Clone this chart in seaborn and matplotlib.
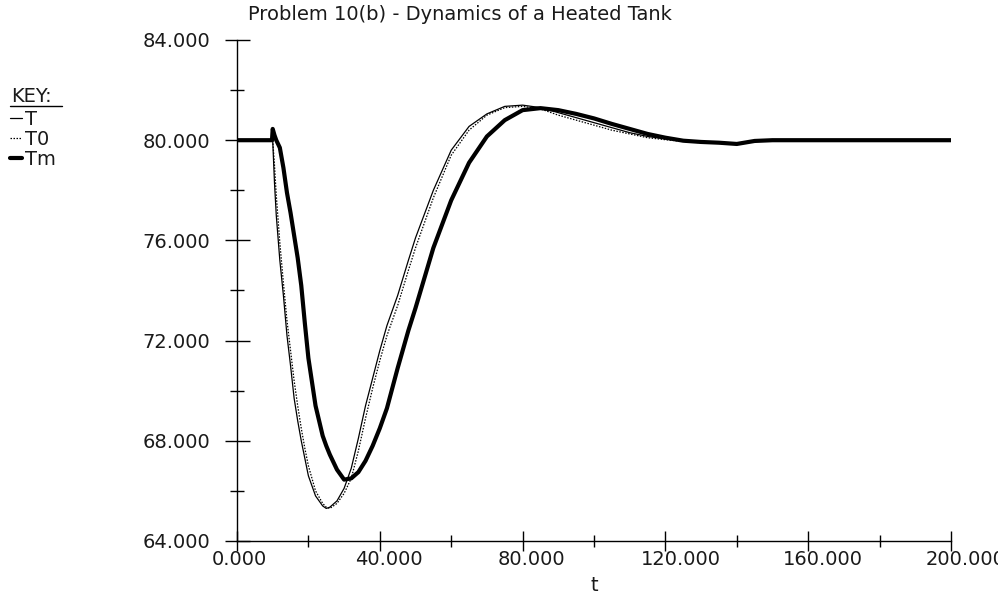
import matplotlib
matplotlib.use("Agg")
import matplotlib.pyplot as plt
import matplotlib.transforms as mtransforms
from matplotlib.ticker import MultipleLocator, FormatStrFormatter
from matplotlib.lines import Line2D
import seaborn as sns
import pandas as pd

# ---- data ----
t = [0, 9.8, 10, 10.5, 11, 12, 13, 14, 15, 16, 17, 18, 19, 20, 22, 24, 25, 26,
     28, 30, 32, 34, 36, 38, 40, 42, 45, 48, 50, 55, 60, 65, 70, 75, 80, 85,
     90, 95, 100, 105, 110, 115, 120, 125, 130, 135, 140, 145, 150, 160, 200]
T = [80, 80, 80, 78.3, 77.0, 75.2, 73.8, 72.2, 71.0, 69.7, 68.8, 68.0, 67.3,
     66.6, 65.8, 65.4, 65.3, 65.35, 65.6, 66.1, 66.9, 68.1, 69.4, 70.5, 71.6,
     72.6, 73.8, 75.2, 76.1, 78.0, 79.6, 80.55, 81.05, 81.35, 81.4, 81.3,
     81.1, 80.9, 80.7, 80.5, 80.3, 80.15, 80.05, 79.97, 79.92, 79.9, 79.88,
     79.97, 80.0, 80.02, 80.0]
T0 = [80, 80, 80, 79.0, 77.8, 75.9, 74.3, 72.8, 71.6, 70.4, 69.4, 68.5, 67.7,
      67.0, 66.0, 65.5, 65.35, 65.3, 65.5, 65.9, 66.5, 67.6, 68.9, 70.1, 71.2,
      72.2, 73.4, 74.8, 75.7, 77.7, 79.4, 80.4, 81.0, 81.3, 81.35, 81.25,
      81.0, 80.8, 80.6, 80.4, 80.25, 80.1, 80.02, 79.95, 79.9, 79.88, 79.87,
      79.96, 80.0, 80.02, 80.0]
Tm = [80, 80, 80.45, 80.2, 80.0, 79.7, 78.9, 77.9, 77.1, 76.2, 75.3, 74.2,
      72.7, 71.3, 69.4, 68.2, 67.8, 67.45, 66.85, 66.45, 66.5, 66.75, 67.2,
      67.8, 68.5, 69.3, 70.9, 72.4, 73.3, 75.7, 77.6, 79.1, 80.15, 80.8, 81.2,
      81.28, 81.2, 81.05, 80.87, 80.65, 80.45, 80.25, 80.1, 79.98, 79.93,
      79.9, 79.85, 79.97, 80.0, 80.0, 80.0]
x_ticks = [0, 40, 80, 120, 160, 200]
y_ticks = [64, 68, 72, 76, 80, 84]
title = "Problem 10(b) - Dynamics of a Heated Tank"

df = pd.DataFrame({"t": t, "T": T, "T0": T0, "Tm": Tm})

sns.set_theme(style="white")
plt.rcParams["font.family"] = ["DejaVu Sans"]
FS = 14
TXT = "#1a1a1a"

fig = plt.figure(figsize=(9.98, 5.98), dpi=100)
ax = fig.add_axes([237 / 998, 1 - 541 / 598, (951 - 237) / 998, (541 - 40) / 598])
ax.set_facecolor("white")

sns.lineplot(data=df, x="t", y="T", ax=ax, color="black", linewidth=0.9,
             estimator=None, sort=False, label="T")
sns.lineplot(data=df, x="t", y="T0", ax=ax, color="black", linewidth=0.9,
             linestyle=(0, (1.2, 1.2)), estimator=None, sort=False, label="T0")
sns.lineplot(data=df, x="t", y="Tm", ax=ax, color="black", linewidth=3.0,
             estimator=None, sort=False, label="Tm")
handles, labels = ax.get_legend_handles_labels()
ax.get_legend().remove()

ax.set_xlim(0, 200)
ax.set_ylim(64, 84)
for s in ["top", "right"]:
    ax.spines[s].set_visible(False)
for s in ["left", "bottom"]:
    ax.spines[s].set_color("black")
    ax.spines[s].set_linewidth(1.0)

ax.set_xticks(x_ticks)
ax.set_yticks(y_ticks)
ax.xaxis.set_minor_locator(MultipleLocator(20))
ax.yaxis.set_minor_locator(MultipleLocator(2))
ax.xaxis.set_major_formatter(FormatStrFormatter("%.3f"))
ax.yaxis.set_major_formatter(FormatStrFormatter("%.3f"))

ax.tick_params(axis="y", which="major", direction="inout", length=18, width=1,
               color="black", labelsize=FS, labelcolor=TXT, pad=10, left=True)
ax.tick_params(axis="y", which="minor", direction="inout", length=9.4, width=1,
               color="black", left=True)
ax.tick_params(axis="x", which="major", direction="inout", length=15, width=1,
               color="black", labelsize=FS, labelcolor=TXT, pad=-1, bottom=True)
ax.tick_params(axis="x", which="minor", direction="inout", length=8, width=1,
               color="black", bottom=True)

ax.set_xlabel("t", fontsize=FS, color=TXT, labelpad=5)
ax.set_ylabel("")

offset = mtransforms.ScaledTranslation(-25 / 100, 0, fig.dpi_scale_trans)
for lab in ax.get_xticklabels():
    lab.set_horizontalalignment("left")
    lab.set_transform(lab.get_transform() + offset)

fig.text(460 / 998, 1 - 15 / 598, title, ha="center", va="center",
         fontsize=FS, color=TXT)

# legend "KEY:"
fig.text(11 / 998, 1 - 96 / 598, "KEY:", ha="left", va="center",
         fontsize=FS, color=TXT)
fig.add_artist(Line2D([10 / 998, 62 / 998], [1 - 106 / 598, 1 - 106 / 598],
                      color="black", linewidth=1.0, transform=fig.transFigure))
leg = fig.legend(handles, labels, loc="upper left",
                 bbox_to_anchor=(10 / 998, 1 - 110 / 598), frameon=False,
                 fontsize=FS, handlelength=0.6, handletextpad=0.15,
                 labelspacing=0.05, borderaxespad=0, borderpad=0)
for txt in leg.get_texts():
    txt.set_color(TXT)

fig.savefig("out.png", dpi=100)
